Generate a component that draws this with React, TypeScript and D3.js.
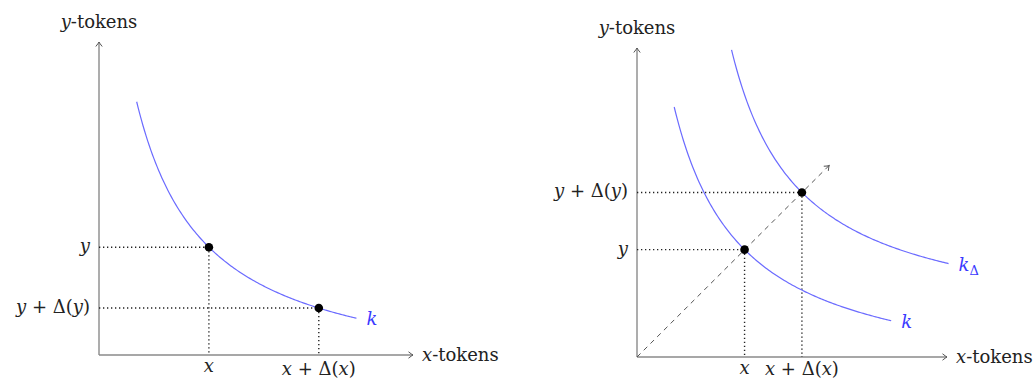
import React from "react";
import * as d3 from "d3";

const width = 1035;
const height = 380;

// constant product: curves are (x + 1 - s)(y + 1 - s) = K in axis units, s = shift along the diagonal
const K = 20;
const AXIS_MAX = 10;

// left panel: a single curve and two points on it
const leftCurveDomain = [1.2, 8.2];
const leftPointsX = [3.5, 7.0];
const leftXLabels = ["x", "x + Δ(x)"];
const leftYLabels = ["y", "y + Δ(y)"];

// right panel: curve k and the shifted curve kΔ
const rightCurveNames = ["k", "kΔ"];
const rightCurveShifts = [0, 1.85];
const rightCurveDomains = [
  [1.2, 8.2],
  [3.05, 10.05],
];
const rightPointsX = [3.47, 5.32];
const rightPointCurve = [0, 1];
const rightXLabels = ["x", "x + Δ(x)"];
const rightYLabels = ["y", "y + Δ(y)"];
const diagonalEnd = 6.2;

const FONT = "DejaVu Serif, Liberation Serif, serif";
const BLUE = "#6b6bff";
const AXIS = "#8a8a8a";

const curveY = (x: number, shift: number) => K / (x - shift + 1) - 1 + shift;

// letters in italic (math variables), everything else upright
function MathText({ s }: { s: string }) {
  const runs: { t: string; it: boolean }[] = [];
  for (const ch of s) {
    const it = /[a-z]/.test(ch);
    const last = runs[runs.length - 1];
    if (last && last.it === it) last.t += ch;
    else runs.push({ t: ch, it });
  }
  return (
    <>
      {runs.map((r, i) => (
        <tspan key={i} fontStyle={r.it ? "italic" : "normal"}>
          {r.t}
        </tspan>
      ))}
    </>
  );
}

function CurveName({ name }: { name: string }) {
  if (name.length === 1) return <tspan fontStyle="italic">{name}</tspan>;
  return (
    <>
      <tspan fontStyle="italic">{name[0]}</tspan>
      <tspan fontSize={13} dy={4}>
        {name.slice(1)}
      </tspan>
    </>
  );
}

// small tikz-like "->" head
function Arrow({ x, y, angle, color }: { x: number; y: number; angle: number; color: string }) {
  return (
    <path
      d="M-4.5,-3.2 Q-1.2,-0.6 0,0 Q-1.2,0.6 -4.5,3.2"
      fill="none"
      stroke={color}
      strokeWidth={1}
      transform={`translate(${x},${y}) rotate(${angle})`}
    />
  );
}

type Curve = { name: string; shift: number; domain: number[] };
type Pt = { x: number; shift: number; xLabel: string; yLabel: string; xLabelLow: boolean };

function Panel({
  ox,
  oy,
  xLen,
  yLen,
  curves,
  points,
  diagonal,
}: {
  ox: number;
  oy: number;
  xLen: number;
  yLen: number;
  curves: Curve[];
  points: Pt[];
  diagonal?: number;
}) {
  const x = d3.scaleLinear().domain([0, AXIS_MAX]).range([ox, ox + xLen]);
  const y = d3.scaleLinear().domain([0, AXIS_MAX]).range([oy, oy - yLen]);
  const line = d3
    .line<number[]>()
    .x((d) => x(d[0]))
    .y((d) => y(d[1]));

  return (
    <g fontFamily={FONT} fontSize={18} fill="#222">
      {/* axes */}
      <line x1={ox} y1={oy} x2={x(AXIS_MAX)} y2={oy} stroke={AXIS} strokeWidth={1.4} />
      <line x1={ox} y1={oy} x2={ox} y2={y(AXIS_MAX)} stroke={AXIS} strokeWidth={1.4} />
      <Arrow x={x(AXIS_MAX)} y={oy} angle={0} color="#555" />
      <Arrow x={ox} y={y(AXIS_MAX)} angle={-90} color="#555" />
      <text x={x(AXIS_MAX) + 9} y={oy + 6}>
        <MathText s="x" />
        -tokens
      </text>
      <text x={ox} y={y(AXIS_MAX) - 14} textAnchor="middle">
        <MathText s="y" />
        -tokens
      </text>

      {/* dotted guides */}
      {points.map((p, i) => {
        const py = curveY(p.x, p.shift);
        return (
          <g key={i} stroke="#222" strokeWidth={1.4} strokeDasharray="1.3 2.7">
            <line x1={ox} y1={y(py)} x2={x(p.x)} y2={y(py)} />
            <line x1={x(p.x)} y1={y(py)} x2={x(p.x)} y2={oy} />
          </g>
        );
      })}

      {diagonal !== undefined && (
        <g>
          <line
            x1={x(0)}
            y1={y(0)}
            x2={x(diagonal)}
            y2={y(diagonal)}
            stroke="#555"
            strokeWidth={1}
            strokeDasharray="5 4.5"
          />
          <Arrow x={x(diagonal)} y={y(diagonal)} angle={-45} color="#555" />
        </g>
      )}

      {/* curves */}
      {curves.map((c, i) => {
        const xs = d3.range(c.domain[0], c.domain[1], 0.05).concat([c.domain[1]]);
        const pts = xs.map((v) => [v, curveY(v, c.shift)]);
        const end = pts[pts.length - 1];
        return (
          <g key={i}>
            <path d={line(pts) || ""} fill="none" stroke={BLUE} strokeWidth={1.2} />
            <text x={x(end[0]) + 10} y={y(end[1]) + 7} fill="#3a3aff">
              <CurveName name={c.name} />
            </text>
          </g>
        );
      })}

      {/* points and their labels */}
      {points.map((p, i) => {
        const py = curveY(p.x, p.shift);
        return (
          <g key={i}>
            <circle cx={x(p.x)} cy={y(py)} r={4.3} fill="#000" />
            <text x={ox - 9} y={y(py) + 5} textAnchor="end" style={{ whiteSpace: "pre" }}>
              <MathText s={p.yLabel} />
            </text>
            <text
              x={x(p.x)}
              y={p.xLabelLow ? height - 5 : oy + 17}
              textAnchor="middle"
              style={{ whiteSpace: "pre" }}
            >
              <MathText s={p.xLabel} />
            </text>
          </g>
        );
      })}
    </g>
  );
}

export default function App() {
  const leftCurves: Curve[] = [{ name: "k", shift: 0, domain: leftCurveDomain }];
  const leftPoints: Pt[] = leftPointsX.map((v, i) => ({
    x: v,
    shift: 0,
    xLabel: leftXLabels[i],
    yLabel: leftYLabels[i],
    xLabelLow: i === 1,
  }));
  const rightCurves: Curve[] = rightCurveNames.map((n, i) => ({
    name: n,
    shift: rightCurveShifts[i],
    domain: rightCurveDomains[i],
  }));
  const rightPoints: Pt[] = rightPointsX.map((v, i) => ({
    x: v,
    shift: rightCurveShifts[rightPointCurve[i]],
    xLabel: rightXLabels[i],
    yLabel: rightYLabels[i],
    xLabelLow: i === 1,
  }));

  return (
    <svg
      width={width}
      height={height}
      style={{ position: "absolute", left: 0, top: 0, background: "#fff" }}
    >
      <Panel ox={99} oy={355} xLen={314} yLen={313} curves={leftCurves} points={leftPoints} />
      <Panel
        ox={637}
        oy={357}
        xLen={310}
        yLen={309}
        curves={rightCurves}
        points={rightPoints}
        diagonal={diagonalEnd}
      />
    </svg>
  );
}
